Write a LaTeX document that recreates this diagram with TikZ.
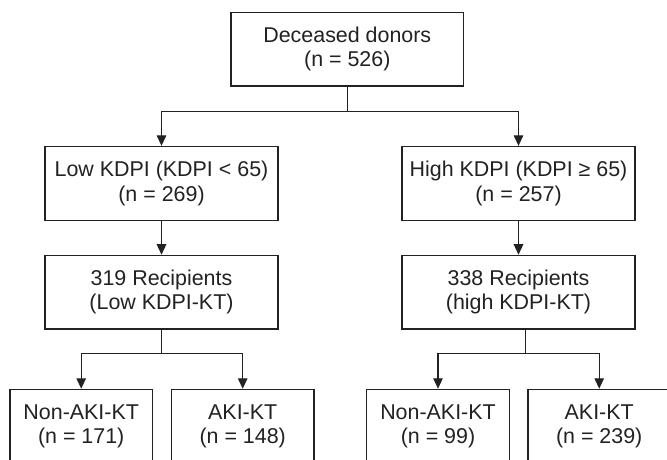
\documentclass[tikz,border=0pt]{standalone}
\usepackage{fontspec}
\setmainfont{Liberation Sans}
\usetikzlibrary{arrows.meta}
\definecolor{ink}{HTML}{222222}
\tikzset{
  box/.style={draw=ink, line width=1.2bp, minimum height=73.7bp, inner sep=0pt,
    align=center, text=ink, font=\fontsize{21.5}{24.5}\selectfont,
    execute at begin node={\rule{0pt}{23bp}}},
  widebox/.style={box, minimum width=233bp},
  smallbox/.style={box, minimum width=142.5bp},
  conn/.style={draw=ink, line width=1.2bp},
  arr/.style={conn, -{Triangle[width=9.5bp,length=10.5bp]}}
}
\begin{document}
\begin{tikzpicture}[x=1bp,y=-1bp]
\useasboundingbox (0,0) rectangle (667,460);
\clip (0,0) rectangle (667,460);
\fill[white] (0,0) rectangle (667,460);
\node[box, minimum width=232.5bp] (top) at (347.3,49.2) {Deceased donors\\(n = 526)};
\node[widebox] (low) at (161.5,183.3) {Low KDPI (KDPI < 65)\\(n = 269)};
\node[widebox] (high) at (518.5,183.3) {High KDPI (KDPI ≥ 65)\\(n = 257)};
\node[widebox] (lowrec) at (161.5,292.2) {319 Recipients\\(Low KDPI-KT)};
\node[widebox] (highrec) at (518.5,292.2) {338 Recipients\\(high KDPI-KT)};
\node[smallbox] (b1) at (81.2,426.2) {Non-AKI-KT\\(n = 171)};
\node[smallbox] (b2) at (242.7,426.2) {AKI-KT\\(n = 148)};
\node[smallbox] (b3) at (438,426.2) {Non-AKI-KT\\(n = 99)};
\node[smallbox] (b4) at (599.2,426.2) {AKI-KT\\(n = 239)};
\coordinate (j1) at (347.3,111.7);
\coordinate (j2) at (161.5,353.3);
\coordinate (j3) at (525.3,353.3);
\draw[conn] (top.south) -- (j1);
\draw[arr] (j1) -| (low.north);
\draw[arr] (j1) -| (high.north);
\draw[arr] (low.south) -- (lowrec.north);
\draw[arr] (high.south) -- (highrec.north);
\draw[conn] (lowrec.south) -- (j2);
\draw[arr] (j2) -| (b1.north);
\draw[arr] (j2) -| (b2.north);
\draw[conn] (highrec.south -| j3) -- (j3);
\draw[arr] (j3) -| (b3.north);
\draw[arr] (j3) -| (b4.north);
\end{tikzpicture}
\end{document}
